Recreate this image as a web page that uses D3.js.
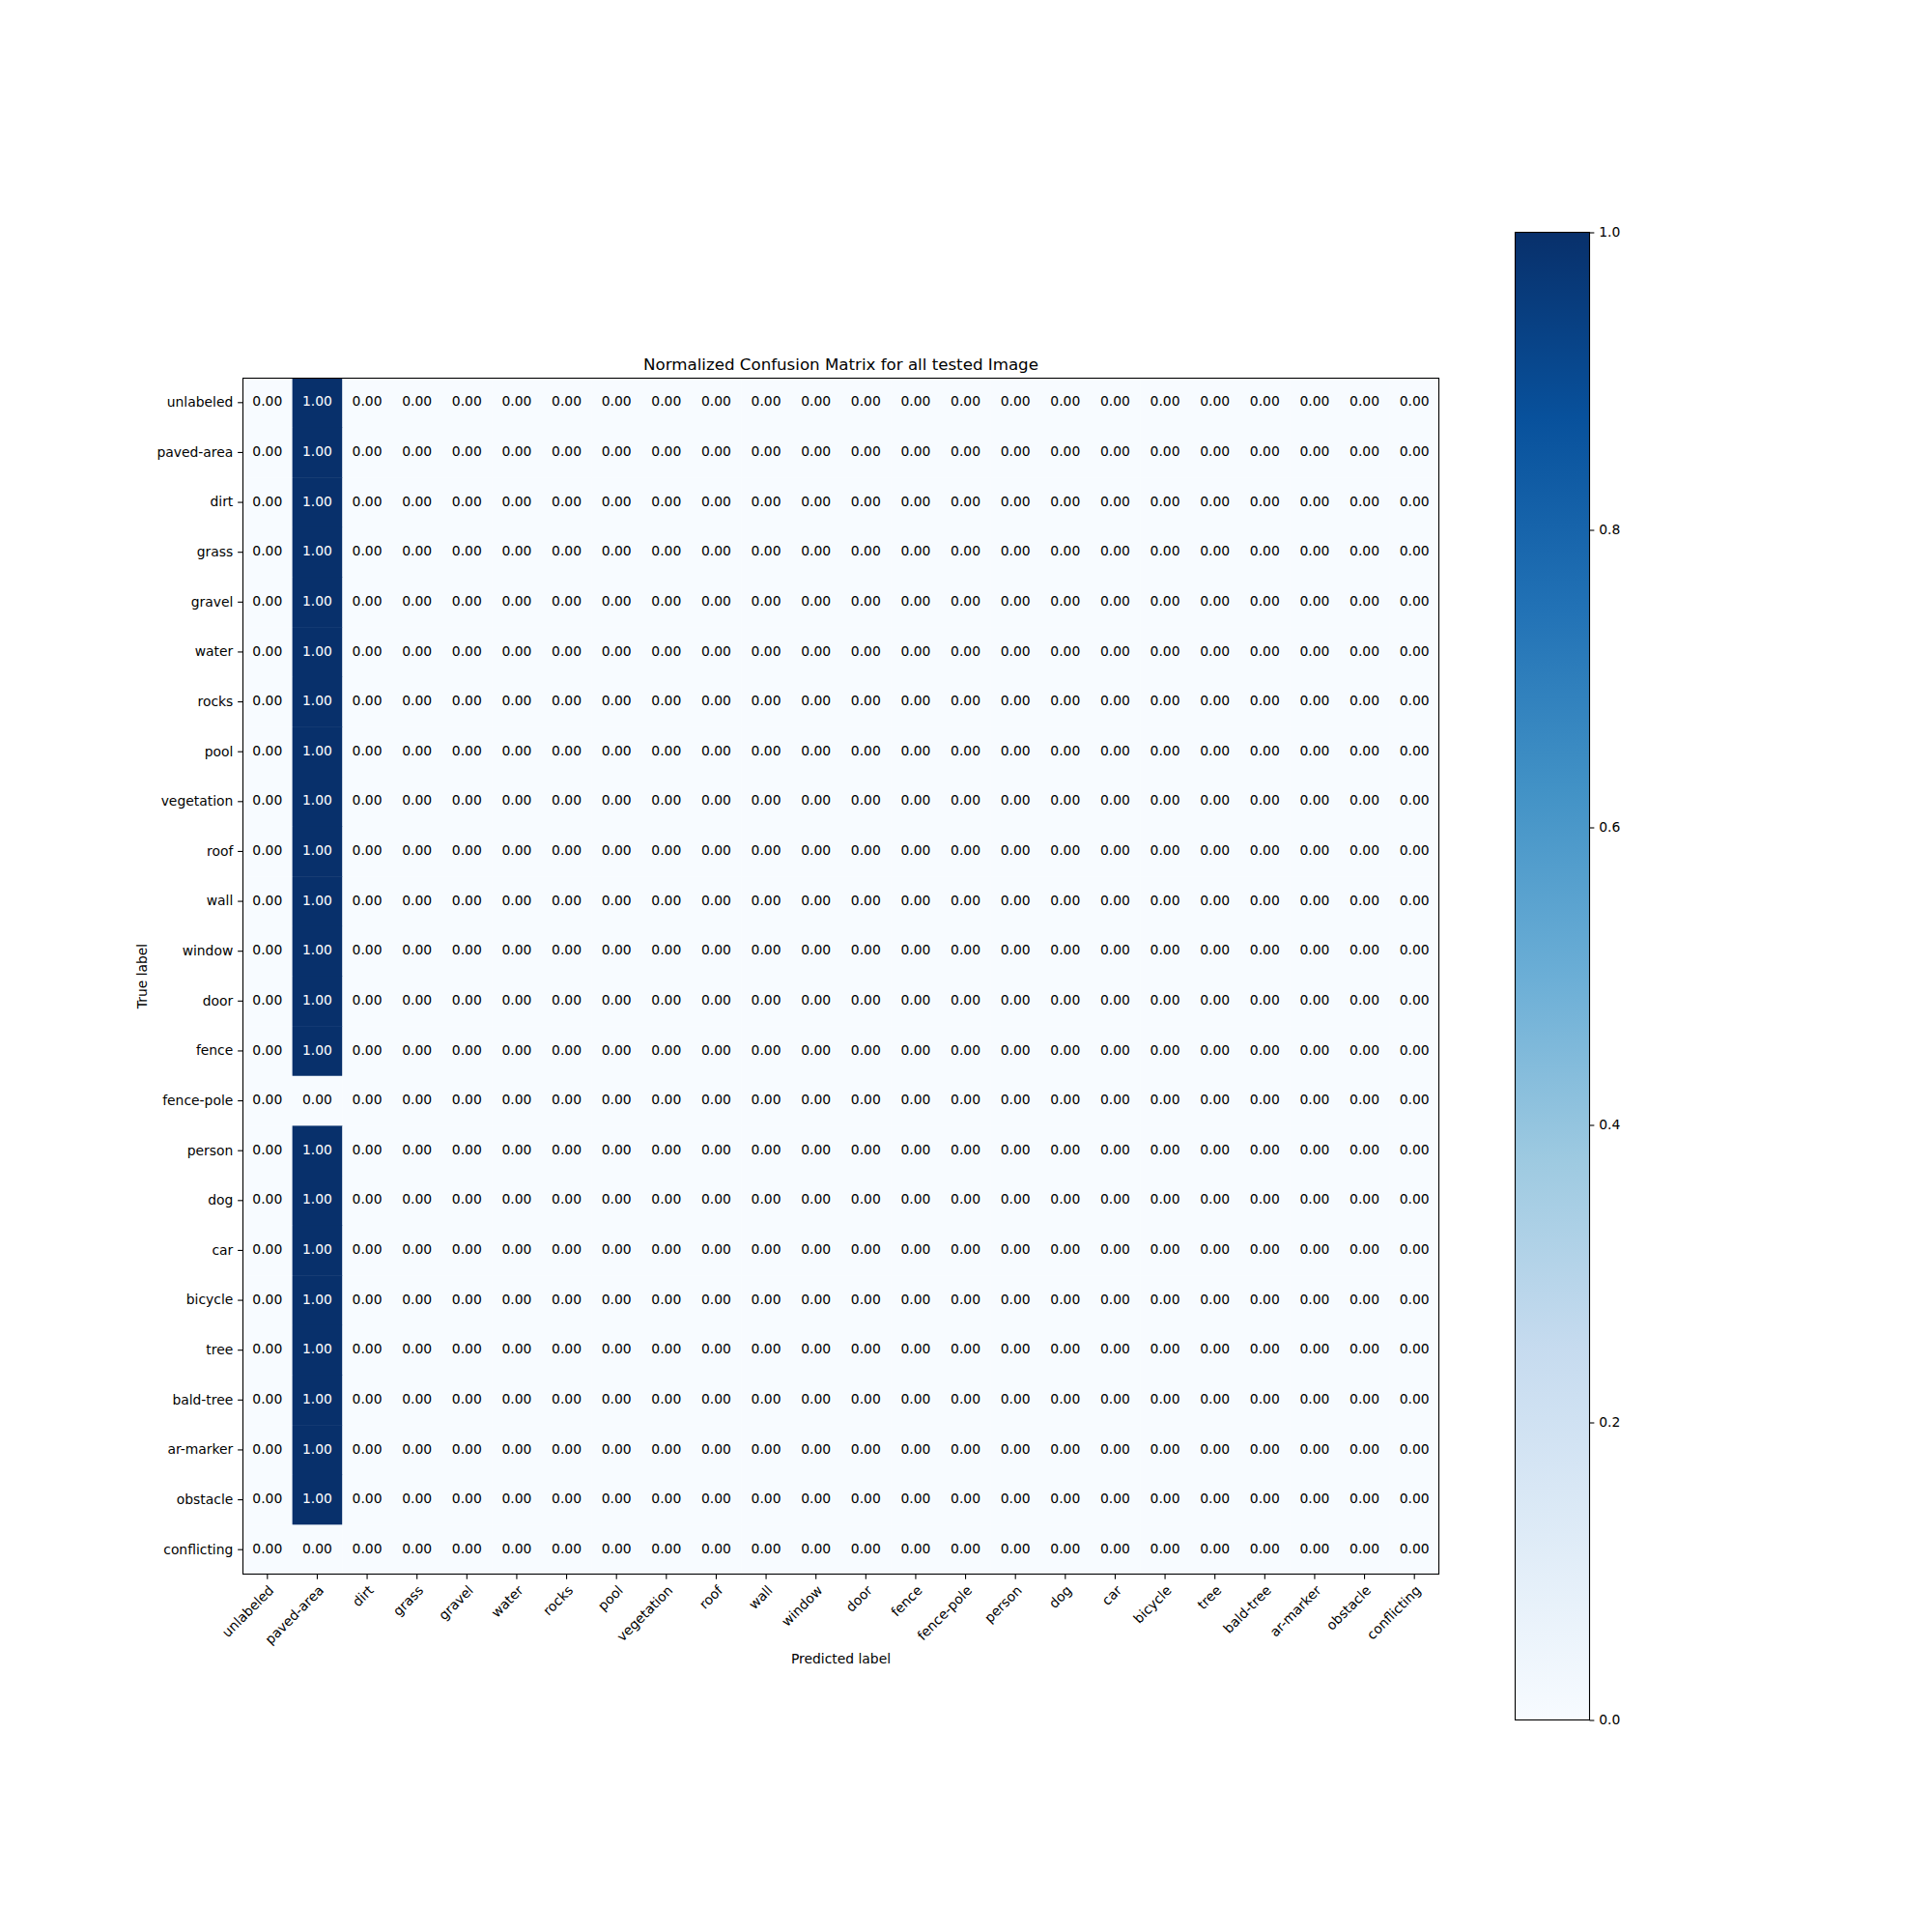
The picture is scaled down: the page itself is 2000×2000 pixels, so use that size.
<!DOCTYPE html>
<html><head><meta charset="utf-8">
<script src="https://cdn.jsdelivr.net/npm/d3@7"></script>
<style>body{margin:0;background:#fff}svg{display:block}text{font-family:"DejaVu Sans",sans-serif;fill:#000}</style>
</head><body>
<script>
const categories = ["unlabeled","paved-area","dirt","grass","gravel","water","rocks","pool","vegetation","roof","wall","window","door","fence","fence-pole","person","dog","car","bicycle","tree","bald-tree","ar-marker","obstacle","conflicting"];
const matrix = [
[0,1,0,0,0,0,0,0,0,0,0,0,0,0,0,0,0,0,0,0,0,0,0,0],
[0,1,0,0,0,0,0,0,0,0,0,0,0,0,0,0,0,0,0,0,0,0,0,0],
[0,1,0,0,0,0,0,0,0,0,0,0,0,0,0,0,0,0,0,0,0,0,0,0],
[0,1,0,0,0,0,0,0,0,0,0,0,0,0,0,0,0,0,0,0,0,0,0,0],
[0,1,0,0,0,0,0,0,0,0,0,0,0,0,0,0,0,0,0,0,0,0,0,0],
[0,1,0,0,0,0,0,0,0,0,0,0,0,0,0,0,0,0,0,0,0,0,0,0],
[0,1,0,0,0,0,0,0,0,0,0,0,0,0,0,0,0,0,0,0,0,0,0,0],
[0,1,0,0,0,0,0,0,0,0,0,0,0,0,0,0,0,0,0,0,0,0,0,0],
[0,1,0,0,0,0,0,0,0,0,0,0,0,0,0,0,0,0,0,0,0,0,0,0],
[0,1,0,0,0,0,0,0,0,0,0,0,0,0,0,0,0,0,0,0,0,0,0,0],
[0,1,0,0,0,0,0,0,0,0,0,0,0,0,0,0,0,0,0,0,0,0,0,0],
[0,1,0,0,0,0,0,0,0,0,0,0,0,0,0,0,0,0,0,0,0,0,0,0],
[0,1,0,0,0,0,0,0,0,0,0,0,0,0,0,0,0,0,0,0,0,0,0,0],
[0,1,0,0,0,0,0,0,0,0,0,0,0,0,0,0,0,0,0,0,0,0,0,0],
[0,0,0,0,0,0,0,0,0,0,0,0,0,0,0,0,0,0,0,0,0,0,0,0],
[0,1,0,0,0,0,0,0,0,0,0,0,0,0,0,0,0,0,0,0,0,0,0,0],
[0,1,0,0,0,0,0,0,0,0,0,0,0,0,0,0,0,0,0,0,0,0,0,0],
[0,1,0,0,0,0,0,0,0,0,0,0,0,0,0,0,0,0,0,0,0,0,0,0],
[0,1,0,0,0,0,0,0,0,0,0,0,0,0,0,0,0,0,0,0,0,0,0,0],
[0,1,0,0,0,0,0,0,0,0,0,0,0,0,0,0,0,0,0,0,0,0,0,0],
[0,1,0,0,0,0,0,0,0,0,0,0,0,0,0,0,0,0,0,0,0,0,0,0],
[0,1,0,0,0,0,0,0,0,0,0,0,0,0,0,0,0,0,0,0,0,0,0,0],
[0,1,0,0,0,0,0,0,0,0,0,0,0,0,0,0,0,0,0,0,0,0,0,0],
[0,0,0,0,0,0,0,0,0,0,0,0,0,0,0,0,0,0,0,0,0,0,0,0]
];
const colorbarTicks = [0, 0.2, 0.4, 0.6, 0.8, 1.0];
const titleText = "Normalized Confusion Matrix for all tested Image";
const xLabelText = "Predicted label";
const yLabelText = "True label";
const bluesStops = ["#f7fbff","#deebf7","#c6dbef","#9ecae1","#6baed6","#4292c6","#2171b5","#08519c","#08306b"];

const W = 2000, H = 2000;
const plot = {left: 251, top: 391, size: 1239};
const cb = {left: 1568.5, right: 1645.5, top: 240.5, bottom: 1780.5};
const fs = 13.89, tickLen = 4.86, pad = 4.86;

const svg = d3.select("body").append("svg").attr("width", W).attr("height", H);

const color = d3.scaleLinear().domain(d3.range(bluesStops.length).map(i => i/(bluesStops.length-1))).range(bluesStops).interpolate(d3.interpolateRgb).clamp(true);

const x = d3.scaleBand().domain(categories).range([plot.left, plot.left + plot.size]).padding(0);
const y = d3.scaleBand().domain(categories).range([plot.top, plot.top + plot.size]).padding(0);

const cells = [];
matrix.forEach((row, r) => row.forEach((v, c) => cells.push({r, c, v})));

svg.append("g").selectAll("rect").data(cells).join("rect")
  .attr("x", d => x(categories[d.c])).attr("y", d => y(categories[d.r]))
  .attr("width", x.bandwidth() + 0.5).attr("height", y.bandwidth() + 0.5)
  .attr("fill", d => color(d.v));

svg.append("g").selectAll("text").data(cells).join("text")
  .attr("x", d => x(categories[d.c]) + x.bandwidth()/2)
  .attr("y", d => y(categories[d.r]) + y.bandwidth()/2 + 3.6)
  .attr("text-anchor", "middle").attr("font-size", fs)
  .style("fill", d => d.v > 0.5 ? "#fff" : "#000")
  .text(d => d.v.toFixed(2));

// frame
svg.append("rect").attr("x", plot.left + 0.5).attr("y", plot.top + 0.5)
  .attr("width", plot.size - 1).attr("height", plot.size - 1)
  .attr("fill", "none").attr("stroke", "#000").attr("stroke-width", 1.1);

// x axis
const xAxisG = svg.append("g").attr("transform", `translate(0,${plot.top + plot.size})`)
  .call(d3.axisBottom(x).tickSize(tickLen).tickPadding(pad).tickSizeOuter(0));
xAxisG.select(".domain").remove();
xAxisG.selectAll(".tick line").attr("stroke", "#000").attr("stroke-width", 1.1);
xAxisG.selectAll(".tick text")
  .attr("font-size", fs).attr("font-family", "DejaVu Sans").style("fill", "#000")
  .attr("text-anchor", "end").attr("dy", null).attr("y", 0)
  .attr("transform", `translate(0,${tickLen + pad}) rotate(-45) translate(0,10.6)`);

// y axis
const yAxisG = svg.append("g").attr("transform", `translate(${plot.left},0)`)
  .call(d3.axisLeft(y).tickSize(tickLen).tickPadding(pad).tickSizeOuter(0));
yAxisG.select(".domain").remove();
yAxisG.selectAll(".tick line").attr("stroke", "#000").attr("stroke-width", 1.1);
yAxisG.selectAll(".tick text")
  .attr("font-size", fs).attr("font-family", "DejaVu Sans").style("fill", "#000")
  .attr("dy", null).attr("y", 4.4);

// title & labels
svg.append("text").attr("x", plot.left + plot.size/2).attr("y", 382.6)
  .attr("text-anchor", "middle").attr("font-size", 16.67).text(titleText);
svg.append("text").attr("x", plot.left + plot.size/2).attr("y", 1721.5)
  .attr("text-anchor", "middle").attr("font-size", fs).text(xLabelText);
svg.append("text").attr("transform", `translate(151.5,${plot.top + plot.size/2}) rotate(-90)`)
  .attr("text-anchor", "middle").attr("font-size", fs).text(yLabelText);

// colorbar
const defs = svg.append("defs");
const grad = defs.append("linearGradient").attr("id", "cbgrad")
  .attr("x1", 0).attr("y1", 1).attr("x2", 0).attr("y2", 0);
bluesStops.forEach((c, i) => grad.append("stop").attr("offset", i/(bluesStops.length-1)).attr("stop-color", c));
svg.append("rect").attr("x", cb.left).attr("y", cb.top)
  .attr("width", cb.right - cb.left).attr("height", cb.bottom - cb.top)
  .attr("fill", "url(#cbgrad)").attr("stroke", "#000").attr("stroke-width", 1.1);
const cy = d3.scaleLinear().domain([0, 1]).range([cb.bottom, cb.top]);
const cbAxis = svg.append("g").attr("transform", `translate(${cb.right},0)`)
  .call(d3.axisRight(cy).tickValues(colorbarTicks).tickFormat(d3.format(".1f")).tickSize(tickLen).tickPadding(pad).tickSizeOuter(0));
cbAxis.select(".domain").remove();
cbAxis.selectAll(".tick line").attr("stroke", "#000").attr("stroke-width", 1.1);
cbAxis.selectAll(".tick text").attr("font-size", fs).attr("font-family", "DejaVu Sans").style("fill", "#000")
  .attr("dy", null).attr("y", 4.4);
</script>
</body></html>
